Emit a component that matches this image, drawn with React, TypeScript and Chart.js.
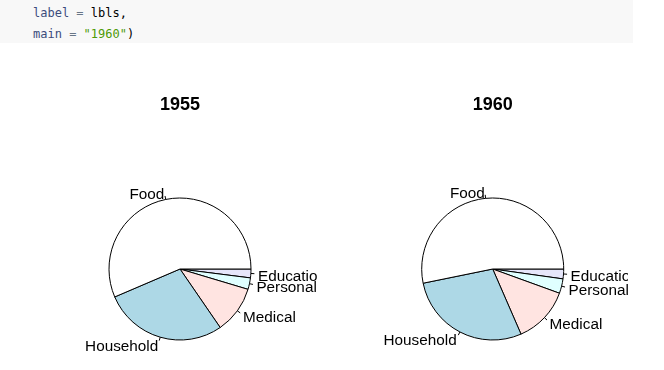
import React, { useEffect, useRef } from "react";
import { Chart, registerables } from "chart.js";

Chart.register(...registerables);

// ---- data (USPersonalExpenditure, in R pie order: counter-clockwise from 3 o'clock)
const categories = ["Food", "Household", "Medical", "Personal", "Education"];
const values1955 = [73.2, 36.5, 14.0, 3.4, 2.6];
const values1960 = [86.8, 46.2, 21.1, 5.4, 3.64];
const sliceColors = ["#ffffff", "#add8e6", "#ffe4e1", "#e0ffff", "#e6e6fa"];
const panelTitles = ["1955", "1960"];

const labelFont = '15.3px "Liberation Sans", Arial, Helvetica, sans-serif';
const titleFont = 'bold 18px "Liberation Sans", Arial, Helvetica, sans-serif';
const LABEL_DY = 2.5;

const pieLabels = {
  id: "pieLabels",
  afterDatasetsDraw(chart: any, _args: any, opts: any) {
    const ctx = chart.ctx as CanvasRenderingContext2D;
    const meta = chart.getDatasetMeta(0);
    const labels = chart.data.labels as string[];
    ctx.save();
    ctx.fillStyle = "#000";
    ctx.strokeStyle = "#000";
    ctx.lineWidth = 1;
    ctx.font = labelFont;
    ctx.textBaseline = "middle";
    let cx = 0;
    let cy = 0;
    meta.data.forEach((arc: any, i: number) => {
      const p = arc.getProps(["x", "y", "startAngle", "endAngle", "outerRadius"], true);
      cx = p.x;
      cy = p.y;
      const mid = (p.startAngle + p.endAngle) / 2;
      const c = Math.cos(mid);
      const s = Math.sin(mid);
      const r = p.outerRadius;
      ctx.beginPath();
      ctx.moveTo(p.x + c * r, p.y + s * r);
      ctx.lineTo(p.x + c * r * 1.05, p.y + s * r * 1.05);
      ctx.stroke();
      ctx.textAlign = c < 0 ? "right" : "left";
      ctx.fillText(labels[i], p.x + c * r * 1.1, p.y + s * r * 1.1 + LABEL_DY);
    });
    if (opts && opts.title) {
      ctx.font = titleFont;
      ctx.textAlign = "center";
      ctx.textBaseline = "middle";
      ctx.fillText(opts.title, cx, cy - 164);
    }
    ctx.restore();
  },
};

type PanelProps = {
  values: number[];
  title: string;
  left: number;
  width: number;
  centerX: number;
};

const PANEL_TOP = 50;
const PANEL_H = 320;
const CENTER_Y = 219;
const RADIUS = 71;

function PiePanel({ values, title, left, width, centerX }: PanelProps) {
  const ref = useRef<HTMLCanvasElement | null>(null);
  useEffect(() => {
    if (!ref.current) return;
    // Chart.js draws clockwise; R draws counter-clockwise, so reverse.
    const data = values.slice().reverse();
    const colors = sliceColors.slice().reverse();
    const labels = categories.slice().reverse();
    const chart = new Chart(ref.current, {
      type: "pie",
      data: {
        labels,
        datasets: [
          {
            data,
            backgroundColor: colors,
            borderColor: "#000000",
            borderWidth: 1,
            radius: RADIUS,
          } as any,
        ],
      },
      options: {
        responsive: false,
        maintainAspectRatio: false,
        animation: false,
        rotation: 90,
        layout: {
          padding: {
            left: centerX - RADIUS,
            right: width - centerX - RADIUS,
            top: CENTER_Y - RADIUS,
            bottom: PANEL_H - CENTER_Y - RADIUS,
          },
        },
        plugins: {
          legend: { display: false },
          tooltip: { enabled: false },
          pieLabels: { title },
        } as any,
      },
      plugins: [pieLabels],
    });
    return () => chart.destroy();
  }, [values, title, width, centerX]);
  return (
    <canvas
      ref={ref}
      width={width}
      height={PANEL_H}
      style={{ position: "absolute", left, top: PANEL_TOP, width, height: PANEL_H }}
    />
  );
}

const mono = '"DejaVu Sans Mono", "Liberation Mono", monospace';

export default function App() {
  return (
    <div
      style={{
        position: "absolute",
        left: 0,
        top: 0,
        width: 664,
        height: 370,
        background: "#ffffff",
        overflow: "hidden",
      }}
    >
      <div
        style={{
          position: "absolute",
          left: 0,
          top: 0,
          width: 633,
          height: 43,
          background: "#f8f8f8",
        }}
      />
      <div
        style={{
          position: "absolute",
          left: 33,
          top: 3,
          fontFamily: mono,
          fontSize: 12,
          lineHeight: "21px",
          whiteSpace: "pre",
          color: "#000",
        }}
      >
        <div>
          <span style={{ color: "#3c4c7c" }}>label</span>
          <span style={{ color: "#687687" }}> = </span>
          <span>lbls,</span>
        </div>
        <div>
          <span style={{ color: "#3c4c7c" }}>main</span>
          <span style={{ color: "#687687" }}> = </span>
          <span style={{ color: "#4e9a06" }}>"1960"</span>
          <span>)</span>
        </div>
      </div>
      <PiePanel values={values1955} title={panelTitles[0]} left={0} width={317} centerX={180} />
      <PiePanel values={values1960} title={panelTitles[1]} left={340} width={288} centerX={152.7} />
    </div>
  );
}
